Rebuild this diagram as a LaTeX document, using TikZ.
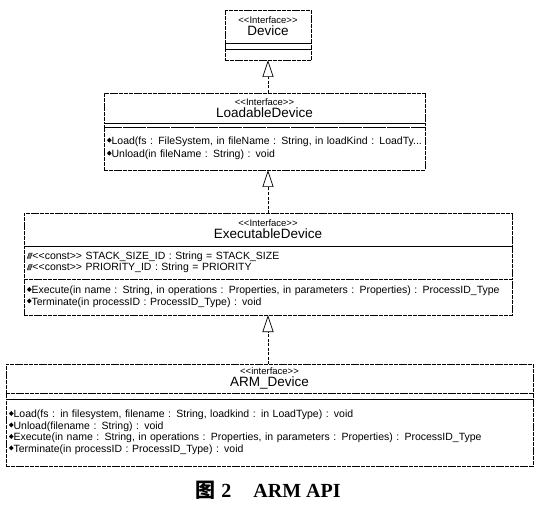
\documentclass[tikz,border=0pt]{standalone}
\usepackage{fontspec}
\setmainfont{Liberation Serif}
\setsansfont{Liberation Sans}
\newfontfamily\cjk{Noto Sans CJK SC}
\usetikzlibrary{arrows.meta,positioning}
\tikzset{
  umlline/.style={line width=0.7pt, dash pattern=on 4pt off 0.8pt},
  namebox/.style={draw, umlline, outer sep=0pt, inner xsep=3pt, inner ysep=0pt, align=center, font=\sffamily},
  partbox/.style={draw, umlline, outer sep=0pt, inner xsep=3pt, inner ysep=0pt, align=left, font=\sffamily\fontsize{10.5}{11.5}\selectfont},
  realize/.style={-{Triangle[open,length=17pt,width=11pt]}, line width=0.7pt, dash pattern=on 3pt off 1.5pt}
}
\newcommand{\stereo}[1]{{\fontsize{9.5}{10}\selectfont <{}<#1>{}>}}
\newcommand{\clname}[1]{{\fontsize{13.5}{15}\selectfont #1}}
\newcommand{\opicon}{\tikz[baseline=0pt]\fill (0,4.5pt) -- (2.3pt,7pt) -- (4.6pt,4.5pt) -- (2.3pt,2pt) -- cycle;}
\newcommand{\attricon}{\tikz[baseline=0pt]\filldraw[solid, line width=0.4pt, fill=black!50] (0.3pt,1pt) -- (2.2pt,6.5pt) -- (5.4pt,6.5pt) -- (3.4pt,1pt) -- cycle;}
\begin{document}
\begin{tikzpicture}[x=1pt, y=-1pt]
\useasboundingbox (0,0) rectangle (543,505);
% Device
\node[namebox, text width=80pt, minimum height=33pt, anchor=north west] (devname) at (225,10) {\stereo{Interface}\\\clname{Device}};
\node[partbox, text width=80pt, minimum height=6pt, below=0pt of devname] (devattr) {};
\node[partbox, text width=80pt, minimum height=11pt, below=0pt of devattr] (devops) {};
% LoadableDevice
\node[namebox, text width=315pt, minimum height=30pt, anchor=north west] (loadname) at (104,93) {\stereo{Interface}\\\clname{LoadableDevice}};
\node[partbox, text width=315pt, minimum height=4pt, below=0pt of loadname] (loadattr) {};
\node[partbox, text width=315pt, minimum height=43pt, below=0pt of loadattr] (loadops) {\opicon Load(fs : FileSystem, in fileName : String, in loadKind : LoadTy...\\[1.5pt]
\opicon Unload(in fileName : String) : void};
% ExecutableDevice
\node[namebox, text width=482pt, minimum height=33pt, anchor=north west] (exename) at (24,213) {\stereo{Interface}\\\clname{ExecutableDevice}};
\node[partbox, text width=482pt, minimum height=33pt, below=0pt of exename] (exeattr) {\attricon<{}<const>{}> STACK\_SIZE\_ID : String = STACK\_SIZE\\
\attricon<{}<const>{}> PRIORITY\_ID : String = PRIORITY};
\node[partbox, text width=482pt, minimum height=36pt, below=0pt of exeattr] (exeops) {\opicon Execute(in name : String, in operations : Properties, in parameters : Properties) : ProcessID\_Type\\
\opicon Terminate(in processID : ProcessID\_Type) : void};
% ARM_Device
\node[namebox, text width=521pt, minimum height=29pt, anchor=north west] (armname) at (6,364) {\stereo{interface}\\\clname{ARM\_Device}};
\node[partbox, text width=521pt, minimum height=6pt, below=0pt of armname] (armattr) {};
\node[partbox, text width=521pt, minimum height=67pt, below=0pt of armattr] (armops) {\opicon Load(fs : in filesystem, filename : String, loadkind : in LoadType) : void\\
\opicon Unload(filename : String) : void\\
\opicon Execute(in name : String, in operations : Properties, in parameters : Properties) : ProcessID\_Type\\
\opicon Terminate(in processID : ProcessID\_Type) : void};
% realizations
\draw[realize] (loadname.north -| devops.south) -- (devops.south);
\draw[realize] (exename.north) -- (exename.north |- loadops.south);
\draw[realize] (exeops.south |- armname.north) -- (exeops.south);
% caption
\node[font=\bfseries\fontsize{20}{22}\selectfont] (caption) at (268,490) {{\cjk 图}\hspace{6pt}2\hspace{22pt}ARM API};
\end{tikzpicture}
\end{document}
